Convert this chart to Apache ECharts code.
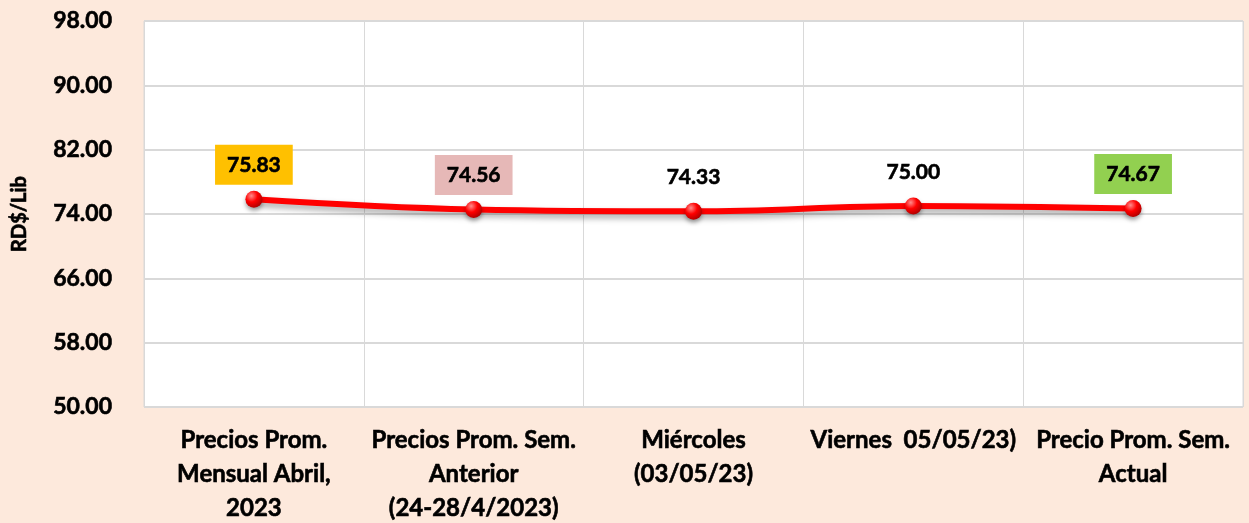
<!DOCTYPE html>
<html lang="es">
<head>
  <meta charset="UTF-8" />
  <title>Precios RD$/Lib</title>
  <script src="https://cdn.jsdelivr.net/npm/echarts@6/dist/echarts.min.js"></script>
  <style>
    html, body { margin: 0; padding: 0; background: #fde9dc; }
  </style>
</head>
<body>
  <div id="main" style="width:1249px; height:523px;"></div>
  <script type="text/javascript">
    // categorias del eje x
    const categorias = [
      'Precios Prom.\nMensual Abril,\n2023',
      'Precios Prom. Sem.\nAnterior\n(24-28/4/2023)',
      'Miércoles\n(03/05/23)',
      'Viernes  05/05/23)',
      'Precio Prom. Sem.\nActual'
    ];
    // precios en RD$/Lib
    const precios = [75.83, 74.56, 74.33, 75.00, 74.67];
    // color de fondo de cada etiqueta (null = sin fondo)
    const fondosEtiqueta = ['#ffc000', '#e6b8b7', null, null, '#92d050'];

    const fuente = 'Lato, "Open Sans", sans-serif';
    // trazo fino para engrosar un poco el texto
    const grueso = { textBorderColor: '#000', textBorderWidth: 0.6 };

    const datos = precios.map(function (v, i) {
      const item = { value: v };
      if (fondosEtiqueta[i]) {
        item.label = { backgroundColor: fondosEtiqueta[i] };
      }
      return item;
    });

    const chart = echarts.init(document.getElementById('main'));
    chart.setOption({
      backgroundColor: '#fde9dc',
      animation: false,
      grid: {
        left: 144, right: 6, top: 21, bottom: 116,
        containLabel: false,
        outerBoundsMode: 'none',
        show: true, backgroundColor: '#ffffff', borderColor: '#d9d9d9', borderWidth: 1
      },
      xAxis: {
        type: 'category',
        data: categorias,
        boundaryGap: true,
        axisLine: { show: false },
        axisTick: { show: false },
        splitLine: { show: true, lineStyle: { color: '#d9d9d9', width: 1 } },
        axisLabel: Object.assign({
          interval: 0,
          margin: 16,
          color: '#000',
          fontFamily: fuente,
          fontWeight: 'bold',
          fontSize: 24,
          lineHeight: 34
        }, grueso)
      },
      yAxis: {
        type: 'value',
        min: 50, max: 98, interval: 8,
        name: 'RD$/Lib',
        nameLocation: 'middle',
        nameGap: 114,
        nameTextStyle: Object.assign({ color: '#000', fontFamily: fuente, fontWeight: 'bold', fontSize: 20 }, grueso),
        axisLine: { show: false },
        axisTick: { show: false },
        splitLine: { lineStyle: { color: '#d9d9d9', width: 2 } },
        axisLabel: Object.assign({
          margin: 32,
          color: '#000',
          fontFamily: fuente,
          fontWeight: 'bold',
          fontSize: 23,
          formatter: function (v) { return v.toFixed(2); }
        }, grueso)
      },
      series: [{
        type: 'line',
        data: datos,
        smooth: 0.4,
        symbol: 'circle',
        symbolSize: 17,
        lineStyle: {
          color: '#ff0000', width: 6,
          shadowColor: 'rgba(0,0,0,0.35)', shadowBlur: 6, shadowOffsetY: 4
        },
        itemStyle: {
          color: new echarts.graphic.RadialGradient(0.35, 0.3, 0.8, [
            { offset: 0, color: '#ff8a8a' },
            { offset: 0.45, color: '#ff0000' },
            { offset: 1, color: '#a00000' }
          ]),
          borderWidth: 0,
          shadowColor: 'rgba(0,0,0,0.35)', shadowBlur: 4, shadowOffsetY: 3
        },
        label: Object.assign({
          show: true,
          position: 'top',
          distance: 6,
          color: '#000',
          fontFamily: fuente,
          fontWeight: 'bold',
          fontSize: 21,
          padding: [10, 12, 9, 12],
          formatter: function (p) { return p.value.toFixed(2); }
        }, grueso)
      }]
    });
  </script>
</body>
</html>
